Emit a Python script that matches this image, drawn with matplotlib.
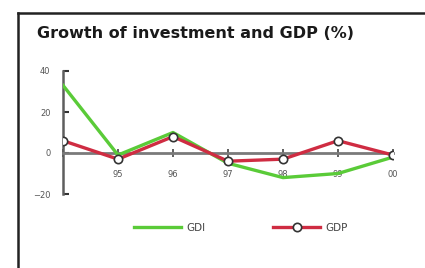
import matplotlib
matplotlib.use('Agg')
import matplotlib.pyplot as plt
from matplotlib.lines import Line2D

# values
years = ['94', '95', '96', '97', '98', '99', '00']
gdi = [33, -1, 10, -5, -12, -10, -2]
gdp = [6, -3, 8, -4, -3, 6, -1]

green = '#5acb38'
red = '#cf2c42'
grey = '#5e5e5e'

fig = plt.figure(figsize=(4.25, 2.68), dpi=100)
ax = fig.add_axes([63/425, 74/268, 330/425, 123/268])

x = list(range(len(years)))
ax.plot(x, gdi, color=green, lw=2.4, label='GDI', zorder=3)
ax.plot(x, gdp, color=red, lw=2.4, label='GDP', marker='o', ms=6,
        mfc='white', mec='#333333', mew=1.2, zorder=4)

ax.set_xlim(0, 6)
ax.set_ylim(-20, 40)
ax.set_yticks([-20, 0, 20, 40])
ax.set_xticks(x)
ax.set_xticklabels([''] + years[1:])

for s in ['top', 'right']:
    ax.spines[s].set_visible(False)
ax.spines['left'].set_color(grey)
ax.spines['left'].set_linewidth(1.8)
ax.spines['bottom'].set_position(('data', 0))
ax.spines['bottom'].set_color('#7a7a7a')
ax.spines['bottom'].set_linewidth(2)
ax.tick_params(axis='y', direction='in', length=4, width=1.5, color='#333333',
               labelsize=6, labelcolor='#555555', pad=9)
ax.tick_params(axis='x', direction='inout', length=6, width=1.2, color='#444444',
               labelsize=6, labelcolor='#555555', pad=9)

fig.text(37/425, 1 - 34/268, 'Growth of investment and GDP (%)',
         fontsize=11.5, fontweight='heavy', color='#1a1a1a', va='center', ha='left')

# frame in top-left
fig.add_artist(Line2D([18/425, 1], [1 - 13/268, 1 - 13/268], color='#222222', lw=1.8))
fig.add_artist(Line2D([18/425, 18/425], [0, 1 - 13/268], color='#222222', lw=1.8))

fig.legend(loc='center', bbox_to_anchor=(241/425, 40/268), ncol=2, frameon=False,
           fontsize=7.5, handlelength=4.5, handletextpad=0.5, columnspacing=6.5,
           labelcolor='#444444')

fig.savefig('out.png', dpi=100)
